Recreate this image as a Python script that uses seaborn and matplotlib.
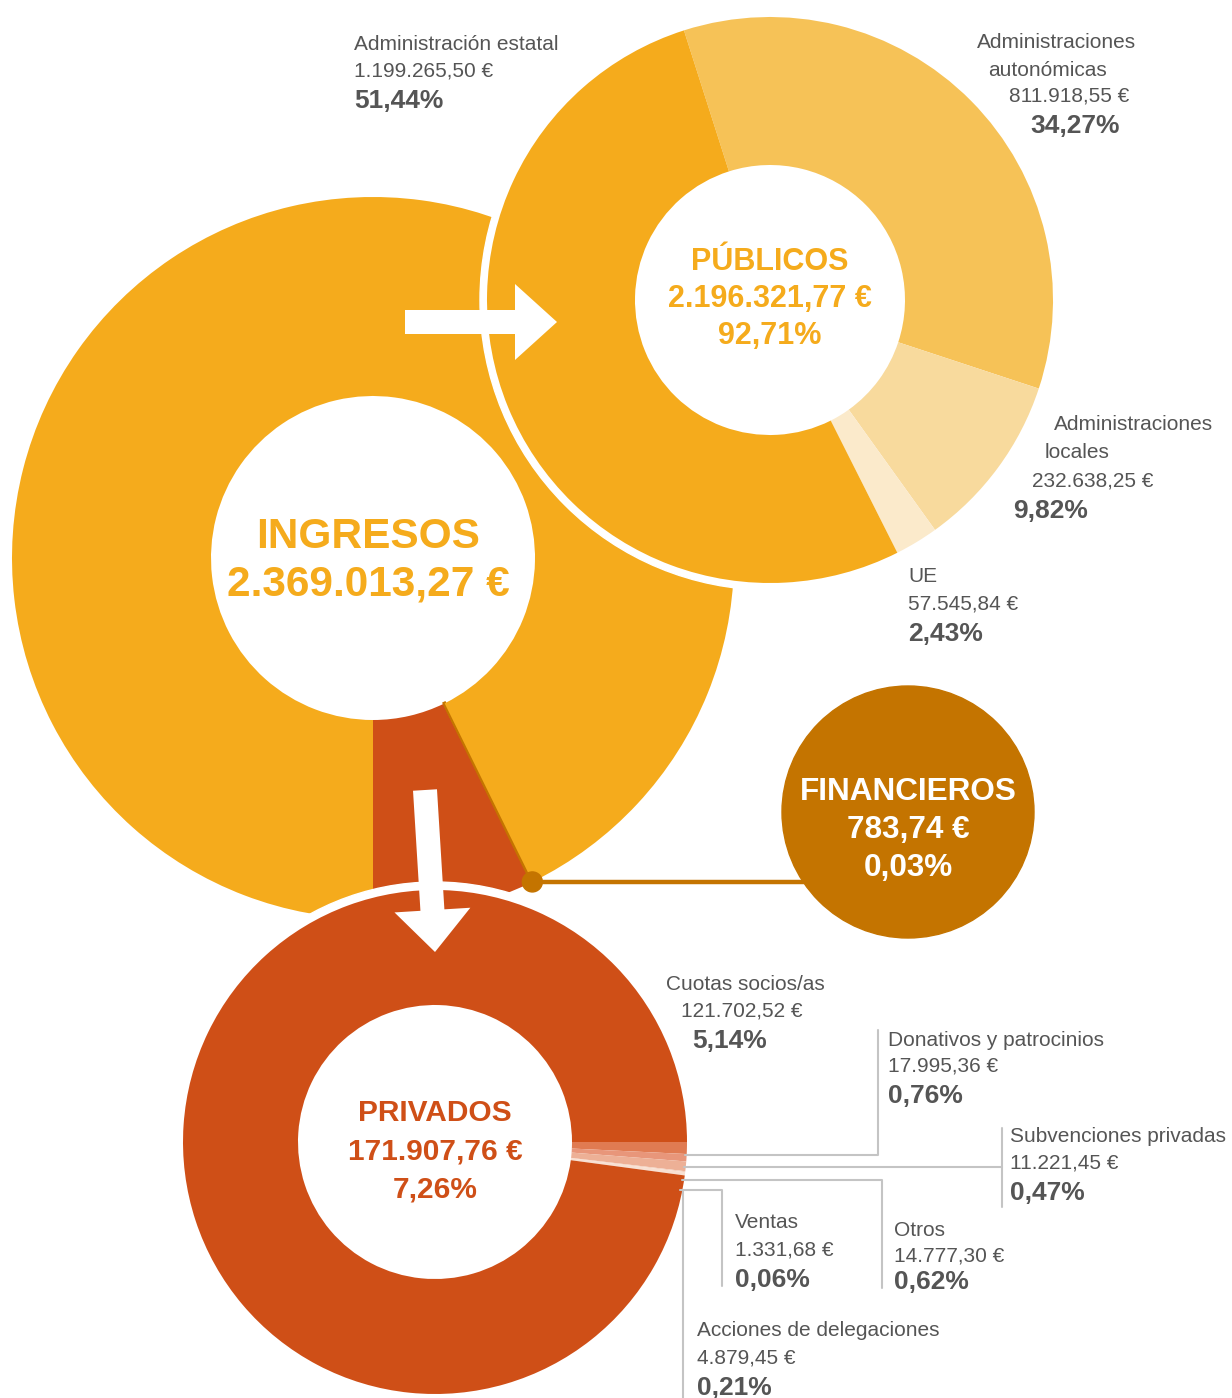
import numpy as np
import matplotlib
matplotlib.use("Agg")
import matplotlib.pyplot as plt
from matplotlib import patches
import seaborn as sns

# ---- data ----
ingresos_total = 2369013.27
ingresos_grupos = ["PÚBLICOS", "PRIVADOS", "FINANCIEROS"]
ingresos_eur = [2196321.77, 171907.76, 783.74]
ingresos_pct = [92.71, 7.26, 0.03]

publicos_labels = ["Administraciones\nautonómicas", "Administraciones\nlocales", "UE", "Administración estatal"]
publicos_eur = [811918.55, 232638.25, 57545.84, 1199265.50]
publicos_pct = [34.27, 9.82, 2.43, 51.44]

privados_labels = ["Donativos y patrocinios", "Subvenciones privadas", "Otros", "Ventas",
                   "Acciones de delegaciones", "Cuotas socios/as"]
privados_eur = [17995.36, 11221.45, 14777.30, 1331.68, 4879.45, 121702.52]
privados_pct = [0.76, 0.47, 0.62, 0.06, 0.21, 5.14]

# ---- style ----
AMBER = "#F5AB1C"
RED = "#CF4F17"
FIN = "#C47400"
GRAY = "#555555"
LINE = "#C4C4C4"
pub_colors = ["#F6C257", "#F8DA9D", "#FBEACB", AMBER]
priv_colors = ["#E07B52", "#E8967A", "#EDB096", "#F4CDB8", "#F8E0D2", RED]

W, H = 1232, 1398


def Y(y):
    return H - y


def eur(v):
    s = f"{v:,.2f}".replace(",", "X").replace(".", ",").replace("X", ".")
    return s + " €"


def pct(p):
    return f"{p:.2f}".replace(".", ",") + "%"


sns.set_theme(style="white")
plt.rcParams['font.family'] = ['Liberation Sans', 'DejaVu Sans']

fig = plt.figure(figsize=(W / 100, H / 100), dpi=100)
ax = fig.add_axes([0, 0, 1, 1])

# main ring (INGRESOS)
c_main, r_main, r_main_in = (373, Y(558)), 361, 162
main_vals = [ingresos_pct[1], ingresos_pct[2], ingresos_pct[0]]
wm, _ = ax.pie(main_vals, colors=[RED, FIN, AMBER], center=c_main, radius=r_main,
               startangle=-90, counterclock=True,
               wedgeprops=dict(width=r_main - r_main_in, linewidth=0))
wm[1].set_edgecolor(FIN)
wm[1].set_linewidth(2.5)

# PÚBLICOS ring
c_pub, r_pub, r_pub_in = (770, Y(300)), 283, 135
ax.add_patch(patches.Circle(c_pub, r_pub + 7, color="white", zorder=2))
start_pub = 107.7
wp, _ = ax.pie(publicos_pct, colors=pub_colors, center=c_pub, radius=r_pub,
               startangle=start_pub, counterclock=False,
               wedgeprops=dict(width=r_pub - r_pub_in, linewidth=0))
for w in wp:
    w.set_zorder(3)

# PRIVADOS ring: small items scaled on the whole income, cuotas fills the rest
c_priv, r_priv, r_priv_in = (435, Y(1142)), 252, 137
ax.add_patch(patches.Circle(c_priv, r_priv + 8, color="white", zorder=2))
priv_vals = privados_pct[:-1] + [100 - sum(privados_pct[:-1])]
wv, _ = ax.pie(priv_vals, colors=priv_colors, center=c_priv, radius=r_priv,
               startangle=0, counterclock=False,
               wedgeprops=dict(width=r_priv - r_priv_in, linewidth=0))
for w in wv:
    w.set_zorder(3)

# FINANCIEROS connector + circle
theta_f = np.deg2rad(-90 + 3.6 * (ingresos_pct[1] + ingresos_pct[2] / 2))
dot = (c_main[0] + r_main * np.cos(theta_f), c_main[1] + r_main * np.sin(theta_f))
c_fin, r_fin = (908, Y(812)), 126
ax.plot([dot[0], c_fin[0]], [dot[1], dot[1]], color=FIN, lw=3.2, zorder=4, solid_capstyle="butt")
ax.add_patch(patches.Circle(dot, 10, color=FIN, zorder=5))
ax.add_patch(patches.Circle(c_fin, r_fin, color=FIN, zorder=5))

# arrows
ax.add_patch(patches.FancyArrow(405, Y(322), 152, 0, width=24, head_width=76, head_length=42,
                                length_includes_head=True, color="white", lw=0, zorder=6))
ax.add_patch(patches.FancyArrow(425, Y(790), 10, -162, width=24, head_width=76, head_length=42,
                                length_includes_head=True, color="white", lw=0, zorder=6))

# centre texts
ax.text(368, Y(537), "INGRESOS", color=AMBER, fontsize=30.5, fontweight="bold", ha="center", va="center", zorder=7)
ax.text(368, Y(585), eur(ingresos_total), color=AMBER, fontsize=30.5, fontweight="bold", ha="center", va="center", zorder=7)

for (cx, cy, dy), name, val, p, col, fs in [
    ((770, 262, 37), ingresos_grupos[0], ingresos_eur[0], ingresos_pct[0], AMBER, 22),
    ((435, 1113, 38), ingresos_grupos[1], ingresos_eur[1], ingresos_pct[1], RED, 21.5),
    ((908, 792, 38), ingresos_grupos[2], ingresos_eur[2], ingresos_pct[2], "white", 22.7),
]:
    for i, s in enumerate([name, eur(val), pct(p)]):
        ax.text(cx, Y(cy + i * dy), s, color=col, fontsize=fs, fontweight="bold",
                ha="center", va="center", zorder=7)

# side labels: one (x, y) per text line -> name lines, euros, percentage
pub_pos = [
    [(977, 43), (988, 70), (1009, 96), (1030, 126)],
    [(1054, 425), (1045, 452), (1032, 481), (1013, 511)],
    [(908, 577), (908, 604), (908, 634)],
    [(354, 44), (354, 71), (354, 101)],
]
priv_pos = [
    [(888, 1040), (888, 1066), (888, 1096)],
    [(1010, 1136), (1010, 1163), (1010, 1193)],
    [(894, 1230), (894, 1256), (894, 1282)],
    [(735, 1223), (735, 1250), (735, 1280)],
    [(697, 1331), (697, 1358), (697, 1388)],
    [(666, 985), (681, 1011), (692, 1041)],
]


def put_label(name, val, p, pos):
    lines = name.split("\n") + [eur(val)]
    for (x, y), s in zip(pos[:-1], lines):
        ax.text(x, Y(y), s, color=GRAY, fontsize=15, ha="left", va="center", zorder=7)
    x, y = pos[-1]
    ax.text(x, Y(y), pct(p), color=GRAY, fontsize=19, fontweight="bold", ha="left", va="center", zorder=7)


for name, val, p, pos in zip(publicos_labels, publicos_eur, publicos_pct, pub_pos):
    put_label(name, val, p, pos)
for name, val, p, pos in zip(privados_labels, privados_eur, privados_pct, priv_pos):
    put_label(name, val, p, pos)


# leader lines for the small private items
def edge_x(y_img):
    dy = Y(y_img) - c_priv[1]
    return c_priv[0] + np.sqrt(r_priv ** 2 - dy ** 2)


leaders = [
    [(1155, None), (878, 1155), (878, 1030)],
    [(1167, None), (1002, 1167)],
    [(1180, None), (882, 1180), (882, 1288)],
    [(1190, None), (722, 1190), (722, 1286)],
]
for path in leaders:
    y0 = path[0][0]
    xs = [edge_x(y0) - 2] + [pt[0] for pt in path[1:]]
    ys = [Y(y0)] + [Y(pt[1]) for pt in path[1:]]
    ax.plot(xs, ys, color=LINE, lw=1.5, zorder=4)
ax.plot([1002, 1002], [Y(1128), Y(1207)], color=LINE, lw=1.5, zorder=4)
ax.plot([683, 683], [Y(1190), Y(1398)], color=LINE, lw=1.5, zorder=4)

ax.set_xlim(0, W)
ax.set_ylim(0, H)
ax.set_aspect("equal")
ax.axis("off")
fig.savefig("out.png", dpi=100, facecolor="white")
